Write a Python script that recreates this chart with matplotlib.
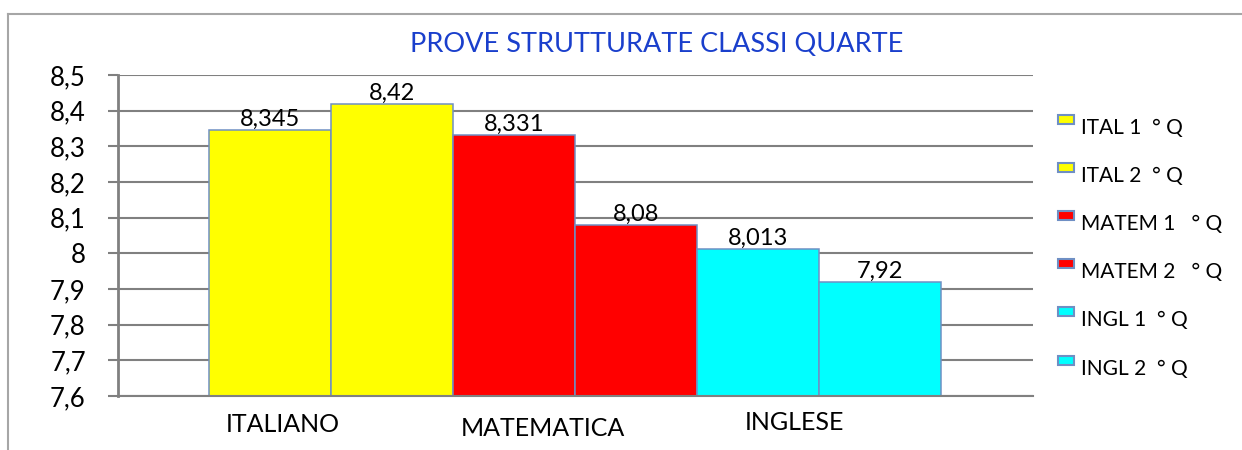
import matplotlib
matplotlib.use("Agg")
import matplotlib.pyplot as plt
from matplotlib.patches import Rectangle
from matplotlib.lines import Line2D

# ---- data ----
series_labels = ["ITAL 1  ° Q", "ITAL 2  ° Q", "MATEM 1   ° Q",
                 "MATEM 2   ° Q", "INGL 1  ° Q", "INGL 2  ° Q"]
values = [8.345, 8.42, 8.331, 8.08, 8.013, 7.92]
value_texts = ["8,345", "8,42", "8,331", "8,08", "8,013", "7,92"]
categories = ["ITALIANO", "MATEMATICA", "INGLESE"]
yticks = [7.6, 7.7, 7.8, 7.9, 8.0, 8.1, 8.2, 8.3, 8.4, 8.5]
ytick_labels = ["7,6", "7,7", "7,8", "7,9", "8", "8,1", "8,2", "8,3", "8,4", "8,5"]
title = "PROVE STRUTTURATE CLASSI QUARTE"

# ---- style / layout ----
colors = ["#ffff00", "#ffff00", "#ff0000", "#ff0000", "#00ffff", "#00ffff"]
edge = "#6f8fc4"
grid_c = "#808080"
font = "Lato"
cat_x = [0.107, 2.238, 4.295]       # label positions (data x)
cat_dy = [-29, -33, -27]            # pixel offsets below axis

plt.rcParams["font.family"] = [font, "DejaVu Sans"]

W, H = 1242, 450
fig = plt.figure(figsize=(W / 100, H / 100), dpi=100)
ax = fig.add_axes([118 / W, 1 - 396 / H, (1033 - 118) / W, (396 - 75) / H])

x = list(range(len(values)))
ax.bar(x, [v - 7.6 for v in values], bottom=7.6, width=1.0, color=colors,
       edgecolor=edge, linewidth=1.1, zorder=3)
ax.set_xlim(-1.246, 6.254)
ax.set_ylim(7.6, 8.5)
ax.set_yticks(yticks)
ax.set_yticklabels(ytick_labels, fontsize=18.5)
ax.tick_params(axis="y", length=7.2, width=1.5, color=grid_c, pad=16)
ax.set_xticks([])
ax.yaxis.grid(True, color=grid_c, linewidth=1.5, zorder=0)
ax.set_axisbelow(True)
for s in ["top", "right"]:
    ax.spines[s].set_visible(False)
ax.spines["left"].set_color(grid_c)
ax.spines["left"].set_linewidth(2)
ax.spines["bottom"].set_color(grid_c)
ax.spines["bottom"].set_linewidth(1.5)
ax.spines["bottom"].set_zorder(4)

for xi, v, t in zip(x, values, value_texts):
    ax.annotate(t, (xi, v), xytext=(0, 3), textcoords="offset points",
                ha="center", va="baseline", fontsize=17, color="#000000", zorder=5)

trans = ax.get_xaxis_transform()
for cx, dy, c in zip(cat_x, cat_dy, categories):
    ax.annotate(c, (cx, 0), xycoords=trans, xytext=(0, dy * 0.72),
                textcoords="offset points", ha="center", va="center", fontsize=18)

fig.text(657 / W, 1 - 44 / H, title, ha="center", va="center",
         fontsize=19.5, color="#1a3fcc")

# legend
ys = [128, 176, 224, 272, 320, 369]
for lab, c, yy in zip(series_labels, colors, ys):
    fig.patches.append(Rectangle((1058 / W, 1 - (yy - 4) / H), 16 / W, 9 / H,
                                 transform=fig.transFigure, facecolor=c,
                                 edgecolor=edge, linewidth=1.5))
    fig.text(1081 / W, 1 - yy / H, lab, ha="left", va="center", fontsize=15)

# outer frame (top & left edges)
fig.add_artist(Line2D([8 / W, 1], [1 - 14 / H, 1 - 14 / H], color="#a6a6a6",
                      linewidth=1.5, transform=fig.transFigure))
fig.add_artist(Line2D([8 / W, 8 / W], [0, 1 - 14 / H], color="#a6a6a6",
                      linewidth=1.5, transform=fig.transFigure))

fig.savefig("out.png", dpi=100)
